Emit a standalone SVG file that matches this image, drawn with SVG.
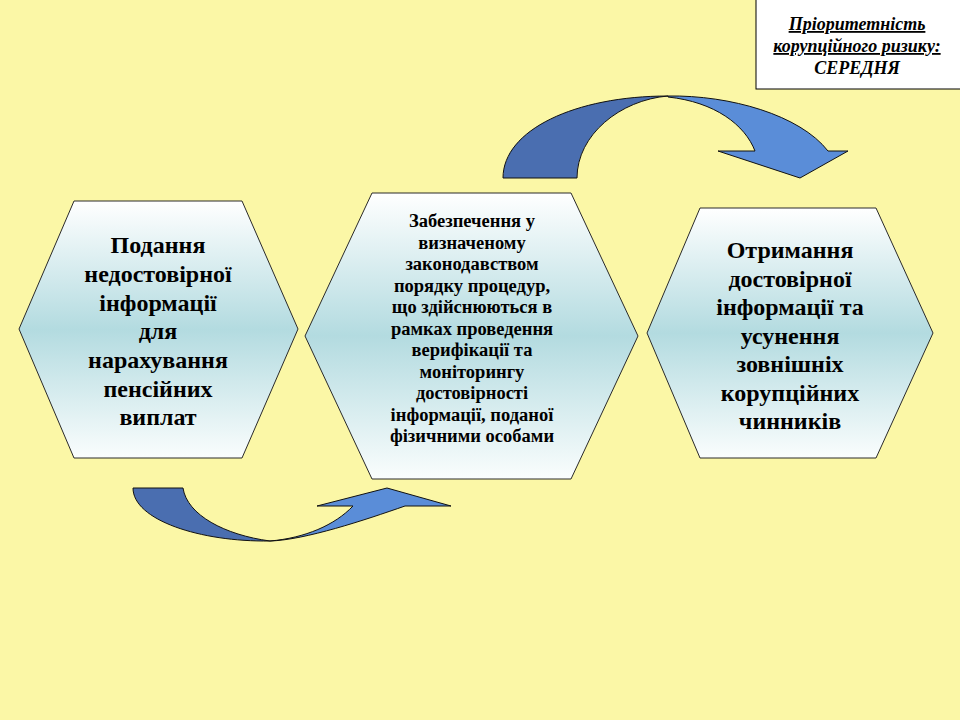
<svg xmlns="http://www.w3.org/2000/svg" width="960" height="720" viewBox="0 0 960 720">
  <defs>
    <linearGradient id="hexFill" x1="0" y1="0" x2="0" y2="1">
      <stop offset="0" stop-color="#FFFFFF"/>
      <stop offset="0.5" stop-color="#B3DBE0"/>
      <stop offset="1" stop-color="#FAFDFD"/>
    </linearGradient>
  </defs>
  <style>
    .hex { fill: url(#hexFill); stroke: #2a2a2a; stroke-width: 1; }
    .big { font-family: "Liberation Serif", "Times New Roman", serif; font-weight: bold; font-size: 24px; fill: #000; text-anchor: middle; }
    .mid { font-family: "Liberation Serif", "Times New Roman", serif; font-weight: bold; font-size: 18.5px; fill: #000; text-anchor: middle; }
    .prio { font-family: "Liberation Serif", "Times New Roman", serif; font-weight: bold; font-style: italic; font-size: 18px; fill: #000; text-anchor: middle; }
    .dark { fill: #4A6EB0; stroke: #111; stroke-width: 1; }
    .light { fill: #5A8DD8; stroke: #111; stroke-width: 1; }
  </style>
  <rect x="0" y="0" width="960" height="720" fill="#FBF7A6"/>

  <g id="priority">
    <rect x="756" y="-1" width="206" height="90" fill="#FFFFFF" stroke="#000" stroke-width="1"/>
    <text class="prio" x="857" y="30" text-decoration="underline">Пріоритетність</text>
    <text class="prio" x="857" y="52" text-decoration="underline">корупційного ризику:</text>
    <text class="prio" x="857" y="74">СЕРЕДНЯ</text>
  </g>

  <g id="connectors">
    <g id="arrow-top">
      <path class="dark" d="M503,178 C503,130 575,96 668,96 C620,100 577,135 577,178 Z"/>
      <path class="light" d="M668,96 C730,95 800,115 828,151 L848,151 L800,178 L718,151 L755,151 C745,125 715,102 668,97 Z"/>
    </g>
    <g id="arrow-bottom">
      <path class="dark" d="M133,488 L183,488 C187,515 225,535 270,541 C200,542 133,520 133,488 Z"/>
      <path class="light" d="M270,541 C305,540 365,520 405,506 L451,506 L387,488 L317,506 L353,506 C335,525 305,538 270,541 Z"/>
    </g>
  </g>

  <g id="node1">
    <polygon class="hex" points="19,329 74,201 242,201 298,329 242,458 74,458"/>
    <text class="big" x="158" y="253">Подання</text>
    <text class="big" x="158" y="282">недостовірної</text>
    <text class="big" x="158" y="311">інформації</text>
    <text class="big" x="158" y="339">для</text>
    <text class="big" x="158" y="368">нарахування</text>
    <text class="big" x="158" y="397">пенсійних</text>
    <text class="big" x="158" y="425">виплат</text>
  </g>

  <g id="node2">
    <polygon class="hex" points="305,336 372,193 571,193 638,336 571,479 372,479"/>
    <text class="mid" x="472" y="227">Забезпечення у</text>
    <text class="mid" x="472" y="248.5">визначеному</text>
    <text class="mid" x="472" y="270">законодавством</text>
    <text class="mid" x="472" y="291.5">порядку процедур,</text>
    <text class="mid" x="472" y="313">що здійснюються в</text>
    <text class="mid" x="472" y="334.5">рамках проведення</text>
    <text class="mid" x="472" y="356">верифікації та</text>
    <text class="mid" x="472" y="377.5">моніторингу</text>
    <text class="mid" x="472" y="399">достовірності</text>
    <text class="mid" x="472" y="420.5">інформації, поданої</text>
    <text class="mid" x="472" y="442">фізичними особами</text>
  </g>

  <g id="node3">
    <polygon class="hex" points="647,333 700,208 876,208 933,333 876,458 700,458"/>
    <text class="big" x="790" y="258">Отримання</text>
    <text class="big" x="790" y="286.5">достовірної</text>
    <text class="big" x="790" y="315">інформації та</text>
    <text class="big" x="790" y="343.5">усунення</text>
    <text class="big" x="790" y="372">зовнішніх</text>
    <text class="big" x="790" y="400.5">корупційних</text>
    <text class="big" x="790" y="429">чинників</text>
  </g>
</svg>
